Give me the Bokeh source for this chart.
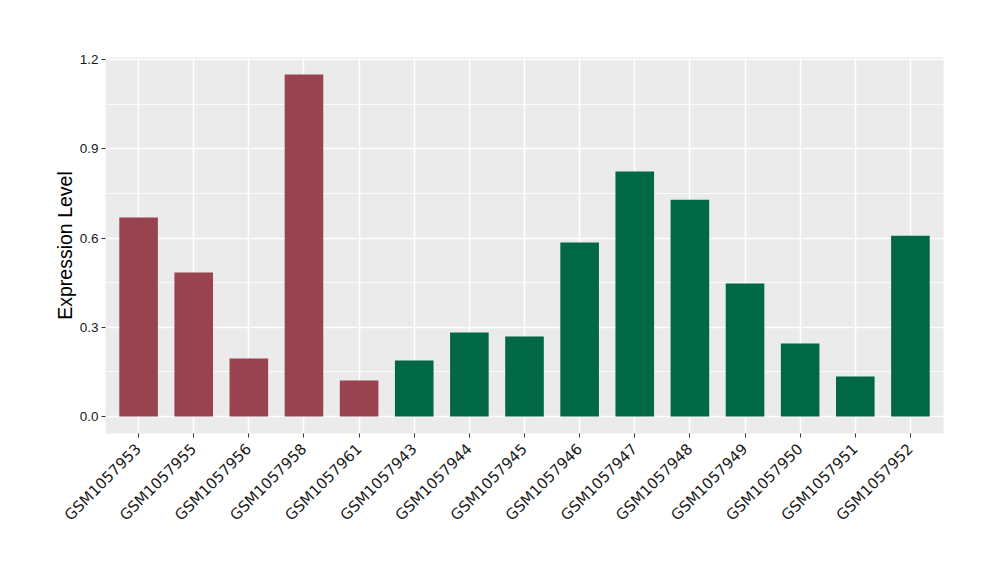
import math
from bokeh.plotting import figure
from bokeh.models import Range1d, FixedTicker, ColumnDataSource
from bokeh.embed import file_html
from bokeh.resources import INLINE

samples = ["GSM1057953", "GSM1057955", "GSM1057956", "GSM1057958", "GSM1057961",
           "GSM1057943", "GSM1057944", "GSM1057945", "GSM1057946", "GSM1057947",
           "GSM1057948", "GSM1057949", "GSM1057950", "GSM1057951", "GSM1057952"]
values = [0.669, 0.484, 0.195, 1.150, 0.121,
          0.188, 0.282, 0.269, 0.585, 0.824,
          0.729, 0.447, 0.245, 0.134, 0.608]
groups = ["a"] * 5 + ["b"] * 10
group_colors = {"a": "#9A4350", "b": "#006845"}
y_ticks = [0.0, 0.3, 0.6, 0.9, 1.2]
y_tick_labels = ["0.0", "0.3", "0.6", "0.9", "1.2"]

xs = list(range(1, len(samples) + 1))
src = ColumnDataSource(dict(x=xs, top=values, color=[group_colors[g] for g in groups]))

ymax = max(values)
pad = ymax * 0.05
p = figure(width=984, height=564, output_backend="svg", toolbar_location=None,
           x_range=Range1d(0.4, len(samples) + 0.6),
           y_range=Range1d(-pad, ymax + pad),
           min_border_left=105, min_border_right=41, min_border_top=57, min_border_bottom=131)
p.background_fill_color = "#EBEBEB"
p.border_fill_color = "white"
p.outline_line_color = None

p.vbar(x="x", top="top", bottom=0, width=0.7, color="color", source=src, line_color=None)

p.xaxis.ticker = FixedTicker(ticks=xs)
p.xaxis.major_label_overrides = {x: s for x, s in zip(xs, samples)}
p.xaxis.major_label_orientation = math.pi / 4
p.yaxis.ticker = FixedTicker(ticks=y_ticks, minor_ticks=[0.15, 0.45, 0.75, 1.05])
p.yaxis.major_label_overrides = {t: l for t, l in zip(y_ticks, y_tick_labels)}

for ax in (p.xaxis[0], p.yaxis[0]):
    ax.axis_line_color = None
    ax.major_tick_line_color = "#333333"
    ax.major_tick_in = 0
    ax.major_tick_out = 4
    ax.minor_tick_line_color = None
    ax.major_label_text_color = "#1A1A1A"
    ax.major_label_standoff = 3

p.xaxis.major_label_text_font = "DejaVu Sans"
p.xaxis.major_label_text_font_size = "15px"
p.xaxis.major_label_standoff = 9
p.yaxis.major_label_text_font = "Liberation Sans"
p.yaxis.major_label_text_font_size = "13.5px"

p.yaxis.axis_label = "Expression Level"
p.yaxis.axis_label_text_font = "Liberation Sans"
p.yaxis.axis_label_text_font_size = "19.5px"
p.yaxis.axis_label_text_font_style = "normal"
p.yaxis.axis_label_text_color = "black"
p.yaxis.axis_label_standoff = 1

p.xgrid.grid_line_color = "white"
p.xgrid.grid_line_width = 1.5
p.ygrid.grid_line_color = "white"
p.ygrid.grid_line_width = 1.5
p.ygrid.minor_grid_line_color = "white"
p.ygrid.minor_grid_line_width = 0.8

open("out.html", "w").write(file_html(p, INLINE))
